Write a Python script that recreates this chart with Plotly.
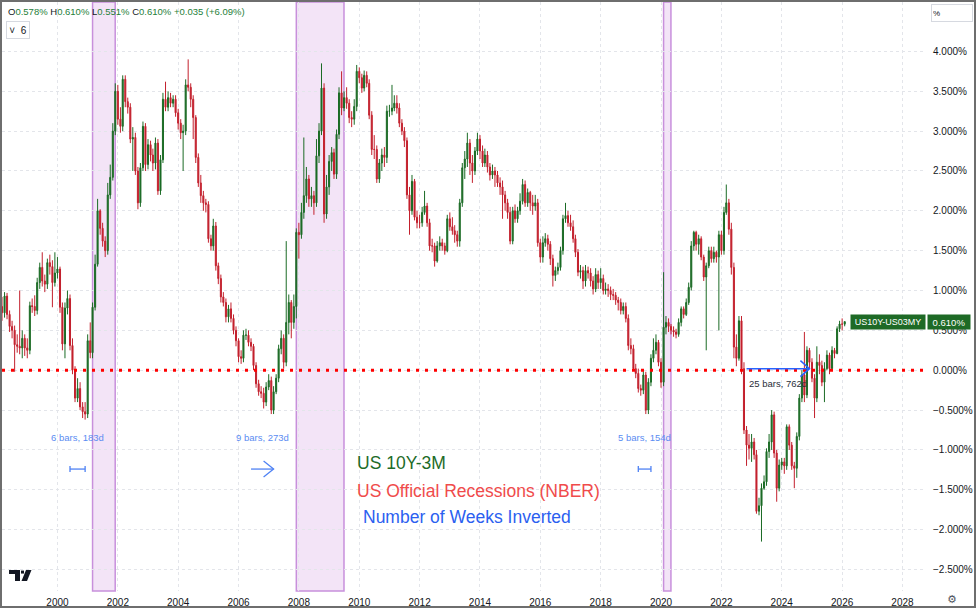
import pandas as pd
import plotly.graph_objects as go

UP_COLOR = "#1b6b25"
DOWN_COLOR = "#c3202d"
FONT = "Liberation Sans"

# monthly OHLC of US10Y-US03MY, Mar 1998 .. Feb 2026 (one row per year)
FIRST_OPEN = 0.80
closes = [
    0.72, 0.93, 0.70, 0.55, 0.50, 0.32, 0.30, 0.28, 0.40, 0.28,  # 1998 (from Mar)
    0.25, 0.81, 0.80, 0.75, 1.10, 1.29, 1.12, 1.08, 1.35, 1.30, 1.10, 1.22,  # 1999
    1.27, 0.79, 0.33, 0.78, 0.90, 0.31, 0.00, -0.35, -0.23, -0.46, -0.52, -0.55,  # 2000
    0.37, 0.22, 0.79, 1.33, 2.00, 1.78, 1.62, 1.50, 2.20, 2.42, 3.00, 3.50,  # 2001
    3.15, 3.06, 3.65, 3.37, 3.30, 2.90, 2.92, 2.50, 2.10, 2.54, 3.06, 2.58,  # 2002
    2.83, 2.70, 2.60, 2.85, 2.25, 2.64, 3.40, 3.30, 3.42, 3.35, 3.40, 3.23,  # 2003
    3.10, 2.98, 3.00, 3.58, 3.55, 3.40, 3.17, 2.67, 2.35, 2.19, 2.10, 2.08,  # 2004
    1.65, 1.56, 1.81, 1.31, 1.15, 0.92, 0.85, 0.67, 0.77, 0.65, 0.50, 0.37,  # 2005
    0.17, 0.15, 0.44, 0.44, 0.35, 0.30, 0.06, -0.17, -0.27, -0.29, -0.40, -0.21,  # 2006
    -0.13, -0.50, -0.27, -0.10, 0.27, 0.40, 0.10, 0.60, 0.85, 0.60, 0.80, 1.73,  # 2007
    1.70, 1.98, 2.19, 2.40, 2.15, 2.19, 2.10, 2.69, 3.00, 3.54, 1.96, 2.30,  # 2008
    2.62, 2.73, 2.46, 2.96, 3.48, 3.29, 3.42, 3.35, 3.17, 3.15, 3.31, 3.75,  # 2009
    3.67, 3.54, 3.70, 3.60, 3.20, 2.77, 2.77, 2.40, 2.60, 2.70, 2.67, 3.25,  # 2010
    3.25, 3.29, 3.35, 3.29, 3.10, 3.00, 2.88, 2.20, 2.00, 2.37, 1.92, 1.85,  # 2011
    1.85, 1.98, 2.06, 1.85, 1.56, 1.56, 1.37, 1.56, 1.60, 1.56, 1.50, 1.90,  # 2012
    1.80, 1.75, 1.70, 1.62, 2.10, 2.54, 2.65, 2.85, 2.60, 2.50, 2.75, 2.90,  # 2013
    2.75, 2.60, 2.70, 2.55, 2.45, 2.50, 2.45, 2.35, 2.30, 2.20, 2.10, 1.98,  # 2014
    1.62, 2.00, 1.90, 2.00, 2.12, 2.33, 2.10, 2.23, 2.10, 2.06, 2.10, 1.60,  # 2015
    1.42, 1.60, 1.65, 1.58, 1.40, 1.19, 1.25, 1.29, 1.50, 1.90, 1.94, 1.85,  # 2016
    1.80, 1.65, 1.48, 1.23, 1.25, 1.12, 1.25, 1.22, 1.12, 1.02, 1.20, 1.10,  # 2017
    1.15, 1.00, 1.02, 1.00, 0.95, 0.94, 0.88, 0.85, 0.75, 0.80, 0.65, 0.31,  # 2018
    0.27, 0.02, -0.04, -0.23, -0.25, -0.06, -0.50, -0.15, 0.15, 0.25, 0.35, 0.10,  # 2019
    -0.15, 0.54, 0.60, 0.55, 0.50, 0.48, 0.45, 0.60, 0.77, 0.70, 0.85, 1.04,  # 2020
    1.56, 1.73, 1.58, 1.65, 1.42, 1.17, 1.31, 1.50, 1.40, 1.48, 1.42, 1.70,  # 2021
    1.50, 1.98, 2.10, 1.77, 1.29, 0.29, 0.15, 0.62, 0.02, -0.75, -0.94, -0.98,  # 2022
    -0.90, -1.06, -1.77, -1.70, -1.48, -1.40, -1.02, -0.90, -0.56, -1.04, -1.48, -1.19,  # 2023
    -1.15, -1.20, -0.71, -0.94, -1.20, -1.23, -0.83, -0.35, -0.06, -0.31, 0.25, 0.10,  # 2024
    -0.10, -0.35, 0.10, 0.06, -0.15, 0.02, 0.19, 0.02, 0.25, 0.21, 0.52, 0.58,  # 2025
    0.578, 0.610,  # 2026
]
highs = [
    0.92, 0.98, 0.97, 0.75, 0.62, 0.56, 0.45, 1.00, 0.50, 0.45,
    0.40, 0.86, 0.90, 0.94, 1.16, 1.35, 1.48, 1.20, 1.40, 1.45, 1.38, 1.48,
    1.42, 1.30, 0.85, 0.85, 1.00, 0.95, 0.40, 0.05, -0.10, -0.15, -0.40, -0.40,
    0.45, 0.60, 0.85, 1.45, 2.15, 2.02, 1.85, 1.68, 2.35, 2.58, 3.10, 3.60,
    3.58, 3.30, 3.70, 3.70, 3.42, 3.35, 3.05, 2.98, 2.55, 2.60, 3.12, 3.10,
    2.90, 2.88, 2.78, 2.92, 2.90, 2.70, 3.48, 3.62, 3.50, 3.48, 3.45, 3.45,
    3.28, 3.15, 3.08, 3.65, 3.90, 3.60, 3.45, 3.20, 2.72, 2.45, 2.25, 2.15,
    2.12, 1.70, 1.90, 1.86, 1.35, 1.20, 0.98, 0.90, 0.82, 0.85, 0.70, 0.55,
    0.40, 0.25, 0.50, 0.52, 0.50, 0.40, 0.33, 0.10, -0.12, -0.20, -0.22, -0.15,
    -0.05, -0.08, -0.20, -0.05, 0.32, 0.50, 0.45, 1.62, 0.95, 0.88, 0.95, 1.78,
    1.85, 2.10, 2.92, 2.55, 2.45, 2.30, 2.25, 2.90, 3.10, 3.85, 3.60, 2.45,
    2.70, 2.80, 2.78, 3.02, 3.55, 3.75, 3.50, 3.55, 3.40, 3.25, 3.40, 3.83,
    3.80, 3.72, 3.76, 3.75, 3.65, 3.25, 2.95, 2.82, 2.65, 2.78, 2.80, 3.32,
    3.33, 3.58, 3.45, 3.45, 3.35, 3.15, 3.05, 2.92, 2.30, 2.45, 2.40, 2.00,
    1.95, 2.05, 2.25, 2.10, 1.90, 1.65, 1.60, 1.62, 1.68, 1.65, 1.60, 1.95,
    1.98, 1.92, 1.82, 1.75, 2.15, 2.60, 2.75, 2.98, 2.90, 2.70, 2.80, 2.98,
    2.95, 2.82, 2.78, 2.75, 2.60, 2.58, 2.55, 2.50, 2.42, 2.38, 2.25, 2.15,
    2.05, 2.05, 2.08, 2.05, 2.22, 2.40, 2.38, 2.28, 2.25, 2.20, 2.20, 2.15,
    1.65, 1.68, 1.72, 1.70, 1.62, 1.45, 1.30, 1.35, 1.55, 1.95, 2.10, 2.00,
    1.95, 1.88, 1.70, 1.52, 1.32, 1.30, 1.32, 1.30, 1.28, 1.18, 1.28, 1.25,
    1.28, 1.20, 1.10, 1.08, 1.05, 1.02, 0.98, 0.92, 0.90, 0.85, 0.85, 0.70,
    0.40, 0.32, 0.08, 0.02, -0.18, 0.00, -0.02, -0.10, 0.20, 0.40, 0.45, 0.38,
    0.15, 1.23, 0.68, 0.65, 0.58, 0.55, 0.52, 0.65, 0.80, 0.80, 0.90, 1.10,
    1.62, 1.75, 1.75, 1.70, 1.68, 1.45, 1.35, 1.55, 1.55, 1.55, 1.50, 1.75,
    1.75, 2.05, 2.33, 2.15, 1.85, 1.35, 0.45, 0.68, 0.68, 0.10, -0.70, -0.80,
    -0.80, -0.85, -1.00, -1.60, -1.42, -1.32, -0.98, -0.80, -0.50, -0.52, -1.00, -1.12,
    -1.10, -1.10, -0.68, -0.68, -0.90, -1.15, -0.78, -0.30, 0.00, 0.48, 0.30, 0.28,
    0.15, -0.05, 0.30, 0.20, 0.12, 0.10, 0.25, 0.22, 0.30, 0.28, 0.55, 0.62,
    0.65, 0.610,
]
lows = [
    0.62, 0.66, 0.64, 0.48, 0.40, -0.02, 0.22, 0.20, 0.15, 0.18,
    0.15, 0.20, 0.72, 0.68, 0.70, 1.02, 1.05, 0.98, 1.02, 1.20, 0.79, 1.05,
    1.15, 0.72, 0.25, 0.15, 0.70, 0.25, -0.05, -0.40, -0.40, -0.50, -0.60, -0.62,
    -0.60, 0.15, 0.15, 0.75, 1.30, 1.70, 1.55, 1.42, 1.45, 2.15, 2.38, 2.95,
    3.08, 2.98, 3.00, 3.30, 3.22, 2.85, 2.50, 2.45, 2.02, 2.05, 2.50, 2.50,
    2.52, 2.62, 2.50, 2.52, 2.20, 2.20, 2.60, 3.25, 3.25, 3.30, 3.30, 3.18,
    3.02, 2.90, 2.50, 2.95, 3.50, 3.30, 2.90, 2.60, 2.30, 2.10, 2.00, 1.98,
    1.60, 1.50, 1.50, 1.25, 1.08, 0.85, 0.80, 0.60, 0.60, 0.60, 0.45, 0.30,
    0.10, 0.08, 0.10, 0.38, 0.30, 0.24, 0.00, -0.22, -0.32, -0.35, -0.48, -0.45,
    -0.25, -0.55, -0.55, -0.30, -0.15, 0.20, 0.02, 0.05, 0.45, 0.40, 0.52, 0.65,
    1.40, 1.65, 1.90, 2.10, 2.05, 2.05, 1.95, 2.05, 2.60, 2.95, 1.85, 1.90,
    2.20, 2.50, 2.40, 2.40, 2.90, 3.20, 3.25, 3.28, 3.10, 3.05, 3.08, 3.25,
    3.60, 3.48, 3.50, 3.55, 3.15, 2.70, 2.65, 2.35, 2.35, 2.50, 2.55, 2.60,
    3.18, 3.20, 3.25, 3.22, 3.05, 2.95, 2.80, 2.15, 1.70, 1.95, 1.88, 1.78,
    1.78, 1.80, 1.95, 1.80, 1.50, 1.48, 1.30, 1.35, 1.50, 1.50, 1.45, 1.48,
    1.75, 1.70, 1.60, 1.55, 1.55, 2.05, 2.40, 2.55, 2.45, 2.35, 2.45, 2.70,
    2.65, 2.55, 2.55, 2.48, 2.38, 2.40, 2.30, 2.30, 2.20, 1.90, 2.00, 1.90,
    1.58, 1.58, 1.85, 1.85, 1.95, 2.08, 2.05, 2.05, 2.00, 1.95, 2.00, 1.55,
    1.35, 1.35, 1.55, 1.50, 1.32, 1.05, 1.12, 1.20, 1.25, 1.45, 1.85, 1.80,
    1.75, 1.60, 1.42, 1.18, 1.15, 1.02, 1.05, 1.15, 1.05, 0.95, 0.98, 1.02,
    1.02, 0.95, 0.95, 0.92, 0.88, 0.88, 0.82, 0.75, 0.70, 0.70, 0.60, 0.25,
    0.20, 0.00, -0.10, -0.28, -0.32, -0.30, -0.55, -0.55, -0.20, 0.10, 0.20, 0.05,
    -0.22, -0.20, 0.45, 0.48, 0.45, 0.42, 0.40, 0.42, 0.55, 0.65, 0.68, 0.82,
    1.00, 1.50, 1.50, 1.45, 1.38, 1.12, 0.25, 1.28, 1.35, 1.35, 1.35, 0.50,
    1.45, 1.45, 1.95, 1.70, 1.20, 0.15, 0.05, 0.12, -0.05, -0.80, -1.20, -1.12,
    -1.15, -1.12, -1.80, -1.82, -2.15, -1.50, -1.45, -1.10, -1.00, -1.10, -1.65, -1.52,
    -1.25, -1.30, -1.25, -1.00, -1.25, -1.48, -1.35, -0.88, -0.40, -0.40, -0.35, 0.02,
    -0.15, -0.60, -0.40, -0.05, -0.20, -0.40, 0.00, -0.05, 0.00, 0.15, 0.20, 0.48,
    0.50, 0.551,
]

months = pd.date_range("1998-03-01", periods=len(closes), freq="MS")
opens = [FIRST_OPEN] + closes[:-1]

# NBER recessions
recessions = [
    ("2001-03-01", "2001-11-30"),
    ("2007-12-01", "2009-06-30"),
    ("2020-02-01", "2020-04-30"),
]

# measured inversion stretches before each recession
inversions = [
    ("2000-06-01", "2000-12-01", "6 bars, 183d", "caps"),
    ("2006-06-01", "2007-03-01", "9 bars, 273d", "arrow"),
    ("2019-04-01", "2019-09-01", "5 bars, 154d", "caps"),
]
last_inversion = ("2022-11-01", "2024-12-01", "25 bars, 762d")

year_ticks = list(range(2000, 2030, 2))
price_ticks = [-2.5, -2.0, -1.5, -1.0, -0.5, 0.0, 0.5, 1.0, 1.5, 2.0, 2.5, 3.0, 3.5, 4.0]

legend_lines = [
    ("US 10Y-3M", "#1d6b28"),
    ("US Official Recessions (NBER)", "#f04b4b"),
    ("Number of Weeks Inverted", "#2b60f0"),
]

# plot area in page pixels: x 2..926, y 2..593
PLOT_L, PLOT_R, PLOT_T, PLOT_B = 2, 926, 2, 593


def paper(x, y):
    return (x - PLOT_L) / (PLOT_R - PLOT_L), (PLOT_B - y) / (PLOT_B - PLOT_T)


def mid_date(a, b):
    a, b = pd.Timestamp(a), pd.Timestamp(b)
    return a + (b - a) / 2


fig = go.Figure()

fig.add_trace(
    go.Candlestick(
        x=months,
        open=opens,
        high=highs,
        low=lows,
        close=closes,
        increasing=dict(line=dict(color=UP_COLOR, width=1), fillcolor=UP_COLOR),
        decreasing=dict(line=dict(color=DOWN_COLOR, width=1), fillcolor=DOWN_COLOR),
        whiskerwidth=0,
        showlegend=False,
        hoverinfo="skip",
    )
)

shapes = []
for start, end in recessions:
    shapes.append(
        dict(
            type="rect", xref="x", yref="paper", x0=start, x1=end, y0=0, y1=1,
            fillcolor="rgba(215,165,228,0.30)",
            line=dict(color="#c890dc", width=1.5),
            layer="below",
        )
    )

# zero line
shapes.append(
    dict(
        type="line", xref="paper", yref="y", x0=0, x1=1, y0=0, y1=0,
        line=dict(color="#ff0000", width=3, dash="3px,6px"),
    )
)

MEASURE_BLUE = "#4f82f4"
ARROW_Y = -1.24
annotations = []
for start, end, label, style in inversions:
    shapes.append(
        dict(type="line", xref="x", yref="y", x0=start, x1=end, y0=ARROW_Y, y1=ARROW_Y,
             line=dict(color=MEASURE_BLUE, width=1.3))
    )
    if style == "caps":
        for anchor in (start, end):
            shapes.append(
                dict(type="path", xref="x", yref="y", xsizemode="pixel", ysizemode="pixel",
                     xanchor=anchor, yanchor=ARROW_Y, path="M0,-3 L0,3",
                     line=dict(color=MEASURE_BLUE, width=1.3))
            )
    else:
        shapes.append(
            dict(type="path", xref="x", yref="y", xsizemode="pixel", ysizemode="pixel",
                 xanchor=end, yanchor=ARROW_Y, path="M-10,8 L0,0 L-10,-8",
                 line=dict(color=MEASURE_BLUE, width=1.3))
        )
    annotations.append(
        dict(x=mid_date(start, end), y=-0.84, xref="x", yref="y", text=label,
             showarrow=False, font=dict(family=FONT, size=9.5, color="#5b8cf2"))
    )

start, end, label = last_inversion
shapes.append(
    dict(type="line", xref="x", yref="y", x0=start, x1=end, y0=0.02, y1=0.02,
         line=dict(color="#2962ff", width=1.5))
)
shapes.append(
    dict(type="path", xref="x", yref="y", xsizemode="pixel", ysizemode="pixel",
         xanchor=end, yanchor=0.02, path="M-9,8 L0,0 L-9,-8",
         line=dict(color="#2962ff", width=1.5))
)
annotations.append(
    dict(x=mid_date(start, end), y=-0.17, xref="x", yref="y", text=label,
         showarrow=False, font=dict(family=FONT, size=9.5, color="#2a2e39"))
)

# big text block
legend_y = [-1.17, -1.51, -1.84]
legend_x = ["2009-11-10", "2009-11-10", "2010-01-20"]
for (txt, col), ly, lx in zip(legend_lines, legend_y, legend_x):
    annotations.append(
        dict(x=lx, y=ly, xref="x", yref="y", text=txt, showarrow=False,
             xanchor="left", font=dict(family=FONT, size=17.5, color=col))
    )

# header line
g = "#26803a"
header = (
    f'O<span style="color:{g}">0.578%</span> H<span style="color:{g}">0.610%</span> '
    f'L<span style="color:{g}">0.551%</span> C<span style="color:{g}">0.610%</span> '
    f'<span style="color:{g}">+0.035 (+6.09%)</span>'
)
hx, hy = paper(6, 12)
annotations.append(
    dict(x=hx, y=hy, xref="paper", yref="paper", text=header, showarrow=False,
         xanchor="left", yanchor="middle", font=dict(family=FONT, size=9.5, color="#131722"))
)
bx, by = paper(17.5, 30.5)
annotations.append(
    dict(x=bx, y=by, xref="paper", yref="paper", text="˅  6", showarrow=False,
         xanchor="center", yanchor="middle",
         width=20, height=14, bordercolor="#d6d9e0", borderwidth=1, borderpad=1,
         font=dict(family=FONT, size=10, color="#131722"))
)
px_, py_ = paper(951.5, 13)
annotations.append(
    dict(x=px_, y=py_, xref="paper", yref="paper", text="%", showarrow=False,
         xanchor="center", yanchor="middle",
         width=38, height=14, align="left", bordercolor="#d6d9e0", borderwidth=1,
         font=dict(family=FONT, size=8, color="#131722"))
)

# last price labels
lx1, _ = paper(888, 0)
lx2, _ = paper(948.5, 0)
annotations.append(
    dict(x=lx1, y=closes[-1], xref="paper", yref="y", text="US10Y-US03MY", showarrow=False,
         xanchor="center", yanchor="middle",
         bgcolor="#1e6a26", width=72, height=12, borderpad=1,
         font=dict(family=FONT, size=9, color="white"))
)
annotations.append(
    dict(x=lx2, y=closes[-1], xref="paper", yref="y", text="0.610%", showarrow=False,
         xanchor="center", yanchor="middle",
         bgcolor="#1e6a26", width=40, height=12, borderpad=1,
         font=dict(family=FONT, size=9.5, color="white"))
)

# gear icon in the corner
gx, gy = paper(952, 602)
annotations.append(
    dict(x=gx, y=gy, xref="paper", yref="paper", text="⚙", showarrow=False,
         xanchor="center", yanchor="middle",
         font=dict(family="DejaVu Sans", size=11, color="#50535e"))
)


# TradingView logo
def poly(points):
    pts = [paper(x, y) for x, y in points]
    return "M" + " L".join(f"{a:.5f},{b:.5f}" for a, b in pts) + " Z"


logo = dict(type="path", xref="paper", yref="paper", fillcolor="#131722",
            line=dict(width=0))
shapes.append(dict(logo, path=poly([(9, 572), (20, 572), (20, 583), (15, 583), (15, 576), (9, 576)])))
shapes.append(dict(logo, path=poly([(21, 572.5), (24, 572.5), (24, 575.5), (21, 575.5)])))
shapes.append(dict(logo, path=poly([(26, 572), (31.5, 572), (27, 583), (21.5, 583)])))

# outer frame
fx0, fy0 = paper(1, 609)
fx1, fy1 = paper(975, 1)
shapes.append(
    dict(type="rect", xref="paper", yref="paper", x0=fx0, x1=fx1, y0=fy0, y1=fy1,
         line=dict(color="#6e6e6e", width=2))
)

grid = dict(showgrid=True, gridcolor="#e3e5ea", griddash="dot", gridwidth=1)

fig.update_xaxes(
    type="date",
    range=["1998-03-01", "2028-10-12"],
    tickvals=[f"{y}-01-01" for y in year_ticks],
    ticktext=[str(y) for y in year_ticks],
    ticks="",
    ticklabelstandoff=4,
    tickfont=dict(family=FONT, size=10, color="#131722"),
    rangeslider=dict(visible=False),
    showline=False,
    zeroline=False,
    **grid,
)
fig.update_yaxes(
    side="right",
    range=[-2.77, 4.62],
    tickvals=price_ticks,
    ticktext=[f"{v:.3f}%".replace("-", "\u2212") for v in price_ticks],
    ticks="",
    ticklabelstandoff=6,
    tickfont=dict(family=FONT, size=10, color="#131722"),
    zeroline=False,
    showline=False,
    **grid,
)

fig.update_layout(
    width=976,
    height=610,
    margin=dict(l=PLOT_L, r=976 - PLOT_R, t=PLOT_T, b=610 - PLOT_B),
    plot_bgcolor="white",
    paper_bgcolor="white",
    boxgap=0.35,
    shapes=shapes,
    annotations=annotations,
    showlegend=False,
    font=dict(family=FONT),
)

fig.write_html(
    "out.html",
    config={"displayModeBar": False},
    post_script="document.body.style.margin='0';document.body.style.overflow='hidden';",
)
